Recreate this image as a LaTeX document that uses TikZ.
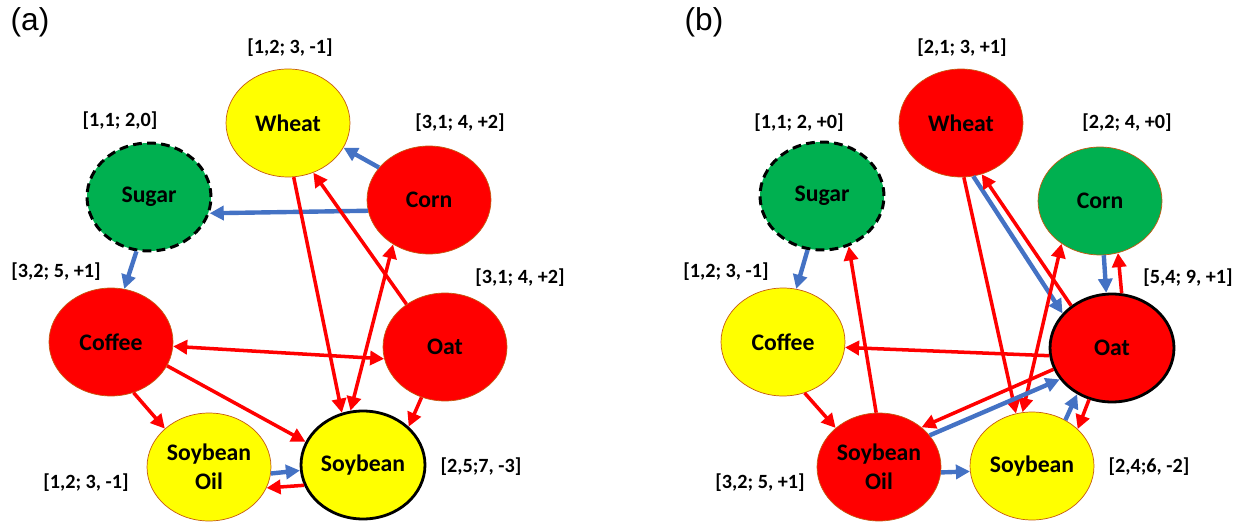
\documentclass[tikz,border=0pt]{standalone}
\usepackage{fontspec}
\setmainfont{Carlito}
\newfontfamily\arialfont{Liberation Sans}
\usetikzlibrary{arrows.meta,shapes.geometric}
\definecolor{nred}{HTML}{FF0000}
\definecolor{nyellow}{HTML}{FFFF00}
\definecolor{ngreen}{HTML}{00B050}
\definecolor{nblue}{HTML}{4472C4}
\definecolor{nborder}{HTML}{C55A11}
\tikzset{
 crop/.style={ellipse, minimum width=2.48cm, minimum height=2.16cm, inner sep=0pt,
   font=\fontsize{13.5}{16.5}\selectfont\bfseries, align=center},
 thinb/.style={draw=nborder, line width=0.4pt},
 thickb/.style={draw=black, line width=1.6pt},
 dashb/.style={draw=black, line width=1.7pt, dash pattern=on 5pt off 3pt},
 lbl/.style={font=\fontsize{11.5}{13}\selectfont\bfseries, inner sep=0pt},
 panel/.style={font=\arialfont\fontsize{18}{20}\selectfont, inner sep=0pt},
 tip/.tip={Triangle[length=8pt,width=8pt]},
 redarr/.style={draw=nred, line width=2pt, -tip},
 redboth/.style={draw=nred, line width=2pt, tip-tip},
 bluearr/.style={draw=nblue, line width=2.5pt, -tip},
}
\begin{document}
\begin{tikzpicture}[x=0.02cm, y=-0.02cm]
\useasboundingbox (0,0) rectangle (1246,523);
% ---------------- panel (a) ----------------
\node[panel] (pa) at (30,22) {(a)};
\node[crop, fill=nyellow, thinb] (aW) at (288,123) {Wheat};
\node[crop, fill=ngreen, dashb] (aS) at (149,197) {Sugar};
\node[crop, fill=nred, thinb] (aC) at (429,200) {Corn};
\node[crop, fill=nred, thinb] (aF) at (111,342) {Coffee};
\node[crop, fill=nred, thinb] (aO) at (445,347) {Oat};
\node[crop, fill=nyellow, thinb] (aL) at (209,467) {Soybean\\Oil};
\node[crop, fill=nyellow, thickb] (aB) at (363,465) {Soybean};
\node[lbl] (laW) at (290,48) {[1,2; 3, -1]};
\node[lbl] (laS) at (120,121) {[1,1; 2,0]};
\node[lbl] (laC) at (460,123) {[3,1; 4, +2]};
\node[lbl] (laF) at (56,272) {[3,2; 5, +1]};
\node[lbl] (laO) at (520,278) {[3,1; 4, +2]};
\node[lbl] (laL) at (86,483) {[1,2; 3, -1]};
\node[lbl] (laB) at (481,467) {[2,5;7, -3]};
\draw[bluearr] (aC.147) -- (aW.-24);
\draw[bluearr] (aC.190) -- (aS.-15);
\draw[bluearr] (aS.257) -- (aF.76);
\draw[bluearr] (aL.-6) -- (aB.185);
\draw[redarr] (aW.276) -- (aB.112);
\draw[redarr] (aO.132) -- (aW.297);
\draw[redboth] (aC.231) -- (aB.103);
\draw[redboth] (aF.-4) -- (aO.191);
\draw[redarr] (aF.-23) -- (aB.158);
\draw[redarr] (aF.294) -- (aL.139);
\draw[redarr] (aO.245) -- (aB.40);
\draw[redarr] (aB.199) -- (aL.-20);
% ---------------- panel (b) ----------------
\node[panel] (pb) at (704,22) {(b)};
\node[crop, fill=nred, thinb] (bW) at (961,123) {Wheat};
\node[crop, fill=ngreen, dashb] (bS) at (822,196) {Sugar};
\node[crop, fill=ngreen, thinb] (bC) at (1100,201) {Corn};
\node[crop, fill=nyellow, thinb] (bF) at (783,342) {Coffee};
\node[crop, fill=nred, thickb] (bO) at (1112,348) {Oat};
\node[crop, fill=nred, thinb] (bL) at (879,467) {Soybean\\Oil};
\node[crop, fill=nyellow, thinb] (bB) at (1032,466) {Soybean};
\node[lbl] (lbW) at (962,48) {[2,1; 3, +1]};
\node[lbl] (lbS) at (799,123) {[1,1; 2, +0]};
\node[lbl] (lbC) at (1127,123) {[2,2; 4, +0]};
\node[lbl] (lbF) at (726,272) {[1,2; 3, -1]};
\node[lbl] (lbO) at (1188,278) {[5,4; 9, +1]};
\node[lbl] (lbL) at (760,483) {[3,2; 5, +1]};
\node[lbl] (lbB) at (1149,467) {[2,4;6, -2]};
\draw[bluearr] (bS.255) -- (bF.76);
\draw[redarr] (bL.93) -- (bS.298);
\draw[redarr] (bF.293) -- (bL.138);
\draw[redarr] (bO.187) -- (bF.-5);
\draw[redarr] (bW.273) -- (bB.107);
\draw[bluearr] (bW.283) -- (bO.145);
\draw[redarr] (bO.134) -- (bW.292);
\draw[redboth] (bC.228) -- (bB.100);
\draw[bluearr] (bC.274) -- (bO.96);
\draw[redarr] (bO.80) -- (bC.289);
\draw[redarr] (bO.200) -- (bL.43);
\draw[bluearr] (bL.32) -- (bO.211);
\draw[bluearr] (bB.54) -- (bO.233);
\draw[redarr] (bO.246) -- (bB.39);
\draw[bluearr] (bL.-5) -- (bB.185);
\end{tikzpicture}
\end{document}
